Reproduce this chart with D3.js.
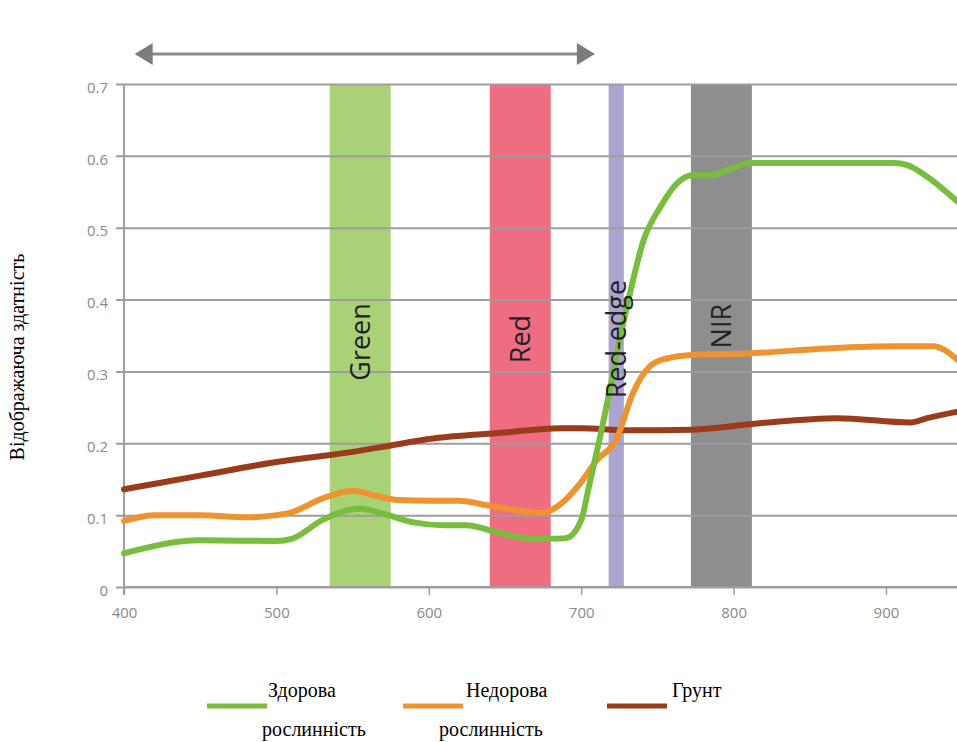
<!DOCTYPE html>
<html>
<head>
<meta charset="utf-8">
<script src="https://cdn.jsdelivr.net/npm/d3@7"></script>
<style>
  body { margin: 0; background: #fff; }
  svg { display: block; }
</style>
</head>
<body>
<svg id="chart" width="957" height="742"></svg>
<script>

// wavelength (nm) and reflectance of each curve
var healthyNm = [400, 450, 500, 510, 530, 545, 555, 570, 590, 610, 625, 640, 660, 680, 690, 700, 705, 712, 730, 741, 752, 763, 773, 785, 796, 811, 839, 905, 914, 927, 947];
var healthyVal = [0.047, 0.065, 0.064, 0.067, 0.093, 0.106, 0.109, 0.102, 0.090, 0.086, 0.086, 0.079, 0.069, 0.067, 0.068, 0.093, 0.139, 0.205, 0.390, 0.483, 0.529, 0.562, 0.573, 0.573, 0.580, 0.590, 0.590, 0.590, 0.587, 0.571, 0.536];

var unhealthyNm = [400, 420, 450, 480, 500, 510, 530, 550, 565, 580, 600, 620, 640, 660, 675, 685, 700, 710, 723, 734, 745, 756, 773, 809, 861, 905, 931, 947];
var unhealthyVal = [0.092, 0.100, 0.100, 0.097, 0.100, 0.104, 0.123, 0.134, 0.127, 0.121, 0.120, 0.120, 0.113, 0.106, 0.103, 0.113, 0.146, 0.176, 0.205, 0.270, 0.307, 0.318, 0.323, 0.325, 0.332, 0.335, 0.335, 0.316];

var soilNm = [400, 450, 500, 550, 575, 600, 650, 686, 700, 730, 773, 817, 868, 916, 927, 947];
var soilVal = [0.136, 0.155, 0.174, 0.188, 0.197, 0.206, 0.215, 0.221, 0.221, 0.218, 0.219, 0.228, 0.235, 0.229, 0.235, 0.244];

// spectral bands [from, to] in nm
var bandNames = ['Green', 'Red', 'Red-edge', 'NIR'];
var bandFrom = [535, 640, 718, 772];
var bandTo = [575, 680, 728, 812];
var bandLabelAt = [0.341, 0.345, 0.345, 0.363];

var xTicks = [400, 500, 600, 700, 800, 900];
var yTicks = [0, 0.1, 0.2, 0.3, 0.4, 0.5, 0.6, 0.7];

var legendLabels = [['Здорова', 'рослинність'], ['Недорова', 'рослинність'], ['Грунт']];
var yTitle = 'Відображаюча здатність';

var arrowNm = [407, 709];

var lineColors = ['#79bd3f', '#ef9330', '#9a3b1c'];
var bandColors = ['#a9d277', '#ee6d81', '#aaa4cf', '#8e8e8e'];

var svg = d3.select('#chart');

var x = d3.scaleLinear().domain([400, 946.6]).range([124, 957]);
var y = d3.scaleLinear().domain([0, 0.7]).range([587, 84]);

// 1. bands
svg.selectAll('.band').data(bandNames).enter().append('rect')
		.attr('class', 'band')
		.attr('x', function(d, i) { return x(bandFrom[i]); })
		.attr('width', function(d, i) { return x(bandTo[i]) - x(bandFrom[i]); })
		.attr('y', y(0.7))
		.attr('height', y(0) - y(0.7))
		.style('fill', function(d, i) { return bandColors[i]; });

// 2. grid + axes
var yAxis = d3.axisLeft(y).tickValues(yTicks).tickSize(-(x(946.6) - x(400)))
		.tickPadding(16)
		.tickFormat(function(d) { return d == 0 ? '0' : d3.format('.1f')(d); });

var gy = svg.append('g').attr('transform', 'translate(' + x(400) + ',0)').call(yAxis);
gy.select('.domain').remove();
gy.selectAll('.tick line').attr('x1', -8).style('stroke', '#9d9d9d').style('stroke-width', 2);
gy.selectAll('.tick text').attr('dy', '0.55em').style('fill', '#8a8a8a').style('font-family', 'Open Sans').style('font-size', '15px');

svg.append('line')
		.attr('x1', x(400)).attr('x2', x(400))
		.attr('y1', y(0.7)).attr('y2', y(0) + 8)
		.style('stroke', '#9d9d9d').style('stroke-width', 2);

var xAxis = d3.axisBottom(x).tickValues(xTicks).tickSize(8).tickPadding(12).tickFormat(d3.format('d'));
var gx = svg.append('g').attr('transform', 'translate(0,' + y(0) + ')').call(xAxis);
gx.select('.domain').remove();
gx.selectAll('.tick line').style('stroke', '#9d9d9d').style('stroke-width', 1.5);
gx.selectAll('.tick text').style('fill', '#8a8a8a').style('font-family', 'Open Sans').style('font-size', '15px');

svg.append('line')
		.attr('x1', x(400)).attr('x2', 957)
		.attr('y1', y(0)).attr('y2', y(0))
		.style('stroke', '#9d9d9d').style('stroke-width', 2);

// 3. curves
var curve = d3.line()
		.x(function(d) { return x(d[0]); })
		.y(function(d) { return y(d[1]); })
		.curve(d3.curveMonotoneX);

var series = [
	d3.zip(healthyNm, healthyVal),
	d3.zip(unhealthyNm, unhealthyVal),
	d3.zip(soilNm, soilVal)
];

// soil first so the vegetation curves sit on top of it
[2, 1, 0].forEach(function(i) {
	svg.append('path').datum(series[i])
			.style('fill', 'none')
			.style('stroke', lineColors[i])
			.style('stroke-width', 6)
			.style('stroke-linecap', 'round')
			.attr('d', curve);
});

// 4. band labels, over the curves
svg.selectAll('.bandLabel').data(bandNames).enter().append('text')
		.attr('class', 'bandLabel')
		.attr('transform', function(d, i) {
			return 'translate(' + x((bandFrom[i] + bandTo[i]) / 2) + ',' + y(bandLabelAt[i]) + ') rotate(-90)';
		})
		.attr('text-anchor', 'middle')
		.attr('dy', '0.35em')
		.style('font-family', 'Open Sans')
		.style('font-size', '27px')
		.style('fill', '#222')
		.text(function(d) { return d; });

// 5. arrow on top
var ay = 54;
svg.append('line')
		.attr('x1', x(arrowNm[0]) + 10).attr('x2', x(arrowNm[1]) - 10)
		.attr('y1', ay).attr('y2', ay)
		.style('stroke', '#8a8a8a').style('stroke-width', 3);
svg.append('path')
		.attr('d', 'M' + x(arrowNm[0]) + ',' + ay + 'L' + (x(arrowNm[0]) + 18) + ',' + (ay - 11) + 'L' + (x(arrowNm[0]) + 18) + ',' + (ay + 11) + 'Z')
		.style('fill', '#7c7c7c');
svg.append('path')
		.attr('d', 'M' + x(arrowNm[1]) + ',' + ay + 'L' + (x(arrowNm[1]) - 18) + ',' + (ay - 11) + 'L' + (x(arrowNm[1]) - 18) + ',' + (ay + 11) + 'Z')
		.style('fill', '#7c7c7c');

// 6. y title
svg.append('text')
		.attr('transform', 'translate(17,357) rotate(-90)')
		.attr('text-anchor', 'middle')
		.attr('dy', '0.35em')
		.style('font-family', 'Liberation Serif')
		.style('font-size', '20px')
		.style('fill', '#000')
		.text(yTitle);

// 7. legend
var legendLineX = [207, 403, 607];
var legendTextX = [[268, 262], [466, 439], [672]];

legendLabels.forEach(function(lines, i) {
	svg.append('line')
			.attr('x1', legendLineX[i]).attr('x2', legendLineX[i] + 60)
			.attr('y1', 706).attr('y2', 706)
			.style('stroke', lineColors[i]).style('stroke-width', 5);
	lines.forEach(function(t, j) {
		svg.append('text')
				.attr('x', legendTextX[i][j])
				.attr('y', 697 + j * 39)
				.style('font-family', 'Liberation Serif')
				.style('font-size', '20px')
				.style('fill', '#000')
				.text(t);
	});
});

</script>
</body>
</html>
